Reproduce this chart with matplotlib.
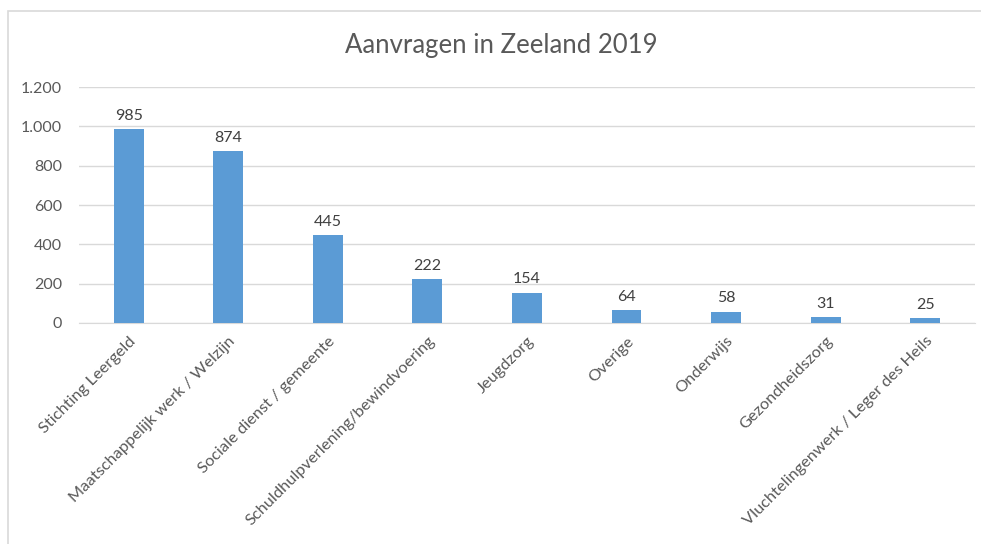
import matplotlib.pyplot as plt
from matplotlib.patches import Rectangle
from matplotlib.ticker import FuncFormatter

categories = ['Stichting Leergeld', 'Maatschappelijk werk / Welzijn', 'Sociale dienst / gemeente',
              'Schuldhulpverlening/bewindvoering', 'Jeugdzorg', 'Overige', 'Onderwijs',
              'Gezondheidszorg', 'Vluchtelingenwerk / Leger des Heils']
values = [985, 874, 445, 222, 154, 64, 58, 31, 25]
y_ticks = [0, 200, 400, 600, 800, 1000, 1200]

plt.rcParams['font.family'] = ['Lato', 'DejaVu Sans']

fig = plt.figure(figsize=(9.81, 5.44), dpi=100)
ax = fig.add_axes([0.0805, 0.4063, 0.9134, 0.4337])

# chart border like Excel
fig.patches.append(Rectangle((8 / 981, -0.01), 1.0, 1 - 11 / 544 + 0.01, transform=fig.transFigure,
                             fill=False, edgecolor='#d9d9d9', linewidth=1.2))

x = range(len(categories))
ax.bar(x, values, width=0.3, color='#5b9bd5', zorder=3)
for i, v in zip(x, values):
    ax.text(i, v + 32, str(v), ha='center', va='bottom', fontsize=11.5, color='#404040')

ax.set_xlim(-0.5, len(categories) - 0.5)
ax.set_ylim(0, 1200)
ax.set_yticks(y_ticks)
ax.yaxis.set_major_formatter(FuncFormatter(lambda v, p: f'{int(v):,}'.replace(',', '.')))
ax.grid(axis='y', color='#d9d9d9', linewidth=1, zorder=0)
for s in ['top', 'right', 'left']:
    ax.spines[s].set_visible(False)
ax.spines['bottom'].set_color('#d9d9d9')
ax.tick_params(axis='both', length=0, colors='#595959', labelsize=11.5)
ax.tick_params(axis='y', pad=12)
ax.set_xticks(list(x))
ax.set_xticklabels(categories, rotation=45, ha='right', rotation_mode='anchor', fontsize=11.8)
ax.tick_params(axis='x', pad=8)

fig.text(0.511, 0.917, 'Aanvragen in Zeeland 2019', ha='center', va='center', fontsize=18.5, color='#595959')

plt.savefig('out.png')
